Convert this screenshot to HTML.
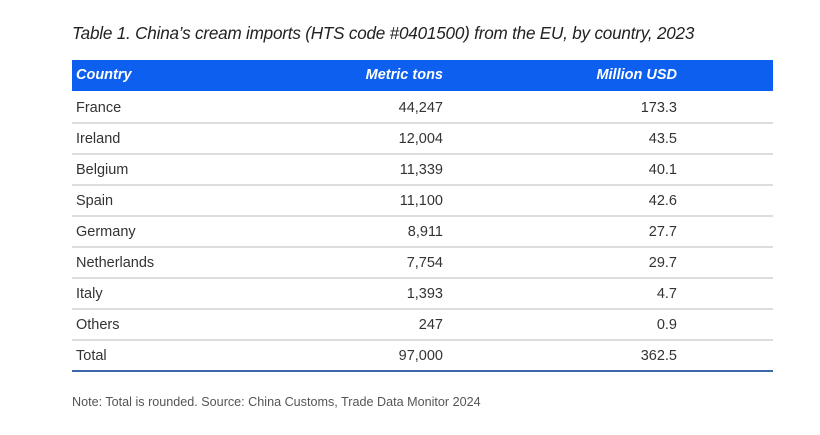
<!DOCTYPE html>
<html><head><style>
body{margin:0;width:820px;height:435px;background:#fff;font-family:"Liberation Sans",sans-serif;color:#333;position:relative;overflow:hidden}
.t{position:absolute;left:72px;top:24px;font-size:17.1px;font-style:italic;color:#222;letter-spacing:-0.2px}
.hd{position:absolute;left:72px;top:60px;width:701px;height:31px;background:#0d5ff0}
.hd span,.r span{position:absolute;top:1px;line-height:31px}
.hd span{color:#fff;font-weight:bold;font-style:italic;font-size:14.5px;top:0}
.r{position:absolute;left:72px;width:701px;height:30px;border-bottom:2px solid #ddd;font-size:14.5px;color:#333}
.c1{left:4px}.c2{right:330px;text-align:right}.c3{right:96px;text-align:right}
.n{position:absolute;left:72px;top:395px;font-size:12.6px;color:#555}
</style></head><body>
<div class="t">Table 1. China’s cream imports (HTS code #0401500) from the EU, by country, 2023</div>
<div class="hd"><span class="c1">Country</span><span class="c2" style="right:330px">Metric tons</span><span class="c3">Million USD</span></div>
<div class="r" style="top:92px"><span class="c1">France</span><span class="c2">44,247</span><span class="c3">173.3</span></div>
<div class="r" style="top:123px"><span class="c1">Ireland</span><span class="c2">12,004</span><span class="c3">43.5</span></div>
<div class="r" style="top:154px"><span class="c1">Belgium</span><span class="c2">11,339</span><span class="c3">40.1</span></div>
<div class="r" style="top:185px"><span class="c1">Spain</span><span class="c2">11,100</span><span class="c3">42.6</span></div>
<div class="r" style="top:216px"><span class="c1">Germany</span><span class="c2">8,911</span><span class="c3">27.7</span></div>
<div class="r" style="top:247px"><span class="c1">Netherlands</span><span class="c2">7,754</span><span class="c3">29.7</span></div>
<div class="r" style="top:278px"><span class="c1">Italy</span><span class="c2">1,393</span><span class="c3">4.7</span></div>
<div class="r" style="top:309px"><span class="c1">Others</span><span class="c2">247</span><span class="c3">0.9</span></div>
<div class="r" style="top:340px;border-bottom-color:#3d68a8"><span class="c1">Total</span><span class="c2">97,000</span><span class="c3">362.5</span></div>
<div class="n">Note: Total is rounded. Source: China Customs, Trade Data Monitor 2024</div>
</body></html>
